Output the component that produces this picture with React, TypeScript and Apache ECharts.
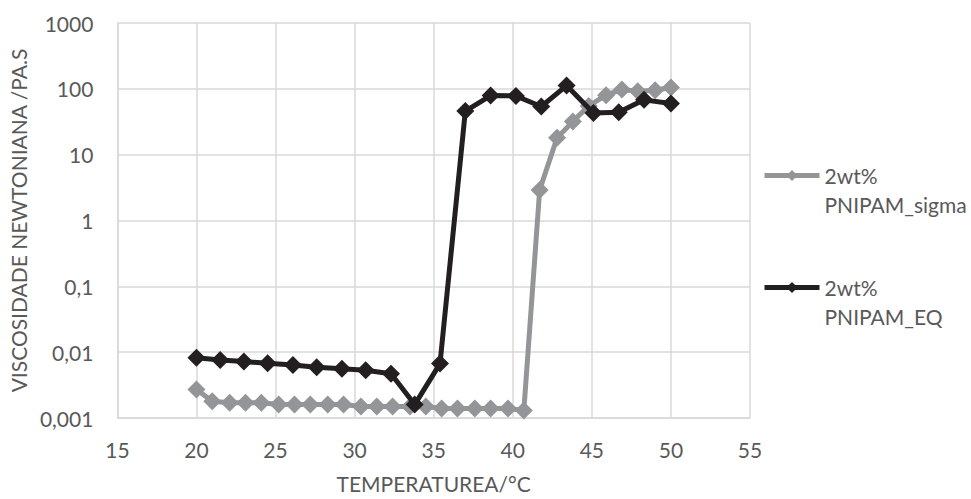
import React, { useEffect, useRef } from "react";
import * as echarts from "echarts";

// Temperatures (°C) and Newtonian viscosities (Pa.s) for each sample
const sigmaTemp = [
  20, 21.0, 22.1, 23.1, 24.1, 25.2, 26.2, 27.2, 28.3, 29.3,
  30.4, 31.4, 32.4, 33.5, 34.5, 35.5, 36.5, 37.6, 38.6, 39.7,
  40.7, 41.7, 42.8, 43.8, 44.8, 45.9, 46.9, 47.9, 49.0, 50.0,
];
const sigmaVisc = [
  0.0027, 0.0018, 0.0017, 0.0017, 0.0017, 0.0016, 0.0016, 0.0016, 0.0016, 0.0016,
  0.0015, 0.0015, 0.0015, 0.0015, 0.0015, 0.0014, 0.0014, 0.0014, 0.0014, 0.0014,
  0.0013, 2.9, 18, 32, 55, 80, 98, 92, 95, 105,
];

const eqTemp = [
  20, 21.5, 23.0, 24.5, 26.1, 27.6, 29.2, 30.7, 32.3, 33.8,
  35.4, 37.0, 38.6, 40.2, 41.8, 43.4, 45.1, 46.7, 48.3, 50.0,
];
const eqVisc = [
  0.0082, 0.0076, 0.0072, 0.0068, 0.0064, 0.0059, 0.0056, 0.0053, 0.0047, 0.0016,
  0.0067, 46, 79, 78, 54, 112, 43, 44, 68, 60,
];

const seriesNames = ["2wt%\nPNIPAM_sigma", "2wt%\nPNIPAM_EQ"];
const seriesColors = ["#939598", "#231f20"];

// Log-axis labels, indexed by exponent + 3
const yTickLabels = ["0,001", "0,01", "0,1", "1", "10", "100", "1000"];

const xAxisTitle = "TEMPERATUREA/°C";
const yAxisTitle = "VISCOSIDADE NEWTONIANA /PA.S";

const FONT = "Lato, 'Open Sans', sans-serif";
const FONT_SIZE = 21;
const TEXT_COLOR = "#595959";
const GRID_COLOR = "#d9d9d9";

export default function App() {
  const ref = useRef<HTMLDivElement>(null);

  useEffect(() => {
    if (!ref.current) return;
    const chart = echarts.init(ref.current, undefined, { renderer: "svg" });

    const pairs = (xs: number[], ys: number[]) => xs.map((x, i) => [x, ys[i]]);

    const legendFor = (idx: number, top: number) => ({
      data: [seriesNames[idx]],
      left: 762,
      top,
      padding: 0,
      itemWidth: 55,
      itemHeight: 14,
      itemGap: 0,
      lineStyle: { width: 5 },
      formatter: (name: string) => "\n" + name,
      textStyle: {
        fontFamily: FONT,
        fontSize: FONT_SIZE,
        color: TEXT_COLOR,
        lineHeight: 29,
      },
    });

    chart.setOption({
      animation: false,
      backgroundColor: "#ffffff",
      textStyle: { fontFamily: FONT },
      grid: { left: 106, right: 221, top: 23, bottom: 74 },
      legend: [legendFor(0, 132), legendFor(1, 244)],
      xAxis: {
        type: "value",
        min: 15,
        max: 55,
        interval: 5,
        name: xAxisTitle,
        nameLocation: "middle",
        nameGap: 55,
        nameTextStyle: { fontFamily: FONT, fontSize: FONT_SIZE, color: TEXT_COLOR },
        axisLine: { show: true, lineStyle: { color: GRID_COLOR, width: 1.5 } },
        axisTick: { show: false },
        axisLabel: { fontFamily: FONT, fontSize: FONT_SIZE, color: TEXT_COLOR, margin: 21 },
        splitLine: { show: true, lineStyle: { color: GRID_COLOR, width: 1.5 } },
      },
      yAxis: {
        type: "log",
        logBase: 10,
        min: 0.001,
        max: 1000,
        splitNumber: 6,
        name: yAxisTitle,
        nameLocation: "middle",
        nameGap: 72,
        nameTextStyle: { fontFamily: FONT, fontSize: FONT_SIZE, color: TEXT_COLOR },
        axisLine: { show: true, lineStyle: { color: GRID_COLOR, width: 1.5 } },
        axisTick: { show: false },
        axisLabel: {
          fontFamily: FONT,
          fontSize: FONT_SIZE,
          color: TEXT_COLOR,
          margin: 24,
          formatter: (v: number) => yTickLabels[Math.round(Math.log10(v)) + 3] ?? "",
        },
        splitLine: { show: true, lineStyle: { color: GRID_COLOR, width: 1.5 } },
      },
      series: [
        {
          name: seriesNames[0],
          type: "line",
          data: pairs(sigmaTemp, sigmaVisc),
          symbol: "diamond",
          symbolSize: 18,
          color: seriesColors[0],
          lineStyle: { color: seriesColors[0], width: 5 },
          itemStyle: { color: seriesColors[0] },
          z: 2,
        },
        {
          name: seriesNames[1],
          type: "line",
          data: pairs(eqTemp, eqVisc),
          symbol: "diamond",
          symbolSize: 18,
          color: seriesColors[1],
          lineStyle: { color: seriesColors[1], width: 5 },
          itemStyle: { color: seriesColors[1] },
          z: 3,
        },
      ],
    });

    return () => chart.dispose();
  }, []);

  return <div ref={ref} style={{ width: 971, height: 499, position: "absolute", left: 0, top: 0 }} />;
}
